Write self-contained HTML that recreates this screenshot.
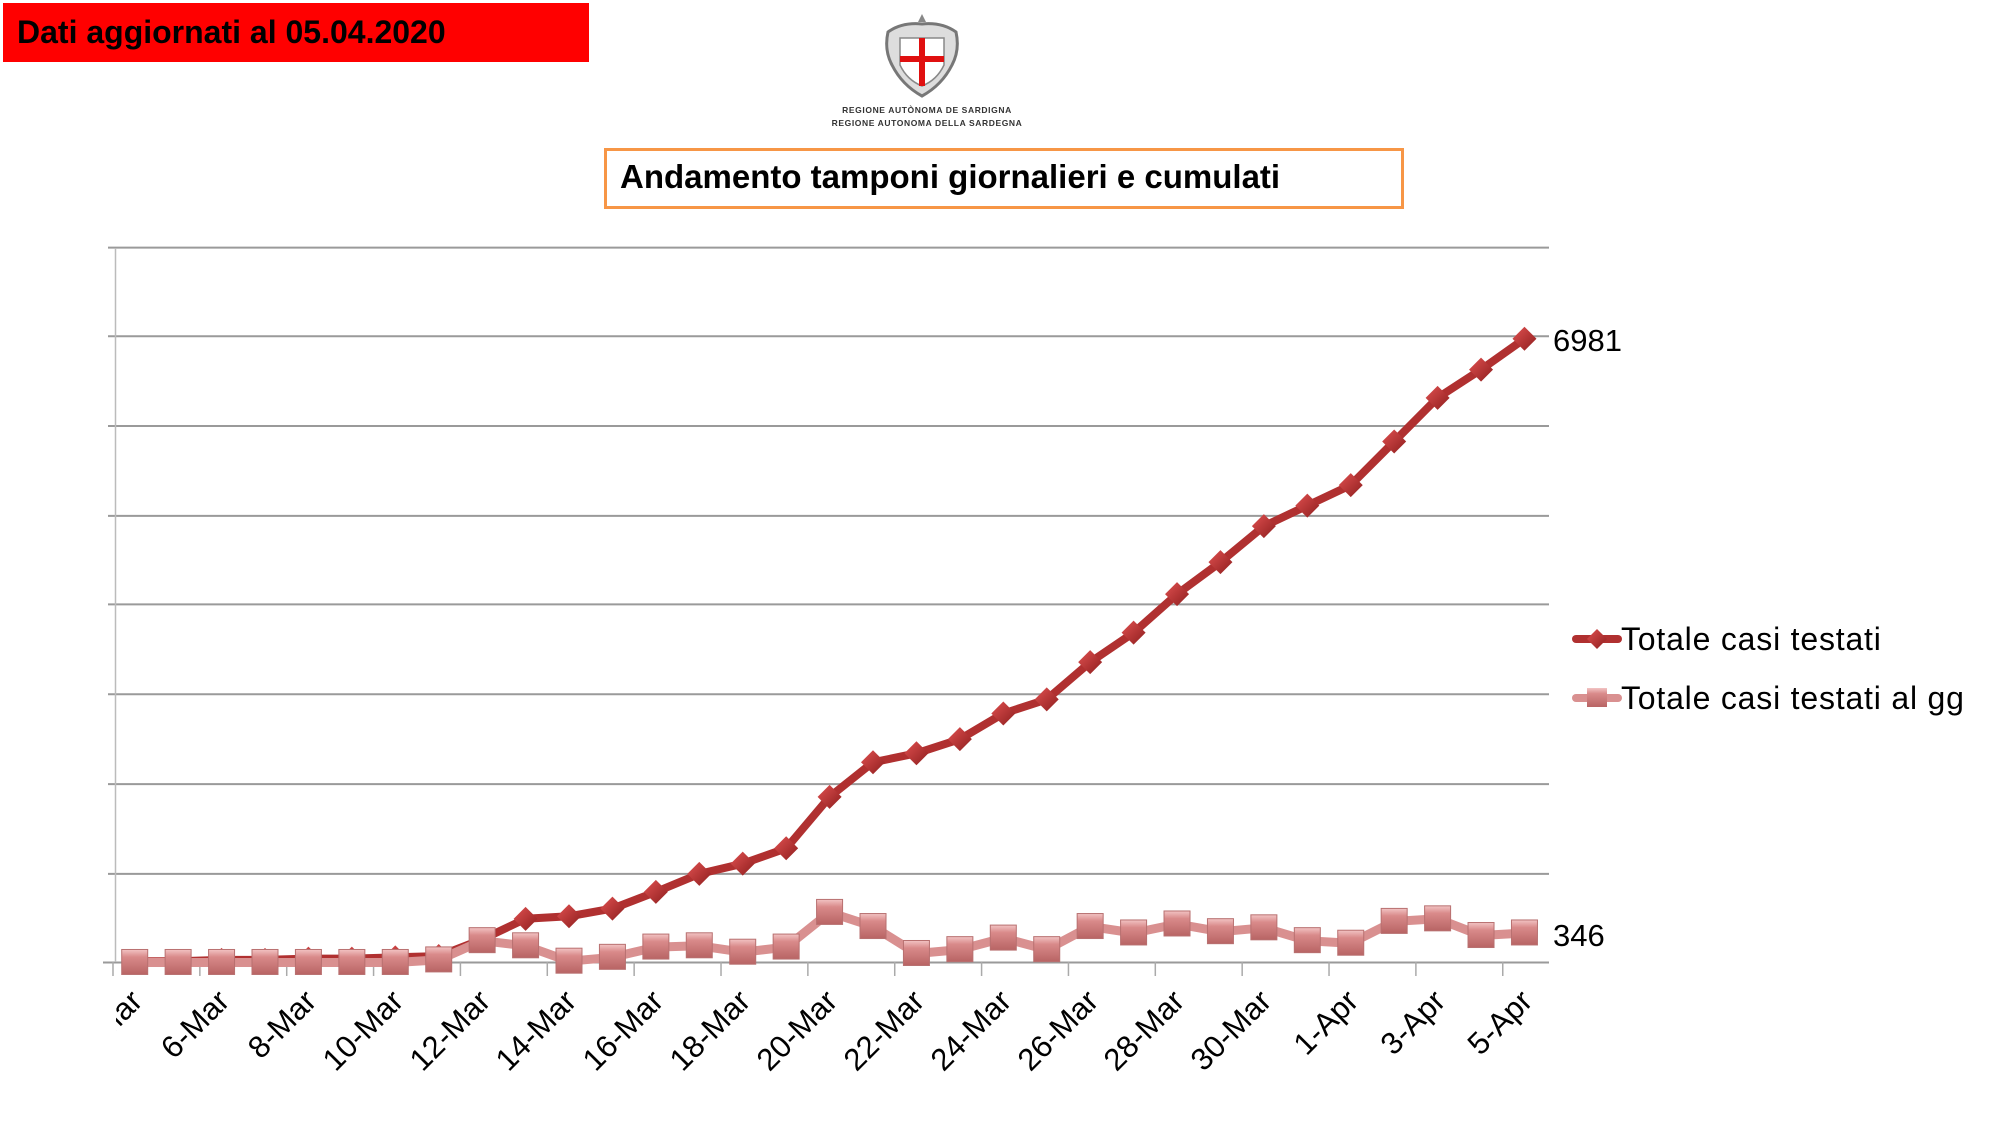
<!DOCTYPE html>
<html><head><meta charset="utf-8"><style>
html,body{margin:0;padding:0;background:#fff;width:2002px;height:1127px;overflow:hidden}
svg{display:block}
</style></head><body>
<svg id="s" width="2002" height="1127" viewBox="0 0 2002 1127" xmlns="http://www.w3.org/2000/svg" font-family="'Liberation Sans', sans-serif">
<defs>
<linearGradient id="sq" x1="0" y1="0" x2="0" y2="1"><stop offset="0" stop-color="#f2c4c4"/><stop offset="0.3" stop-color="#d98a8a"/><stop offset="1" stop-color="#b86464"/></linearGradient>
<linearGradient id="dm" x1="0" y1="0" x2="1" y2="1"><stop offset="0" stop-color="#e05050"/><stop offset="1" stop-color="#8e1e1e"/></linearGradient>
<clipPath id="lc"><rect x="116" y="960" width="1900" height="167"/></clipPath>
</defs>
<rect x="3" y="3" width="586" height="59" fill="#ff0000"/>
<text x="17" y="43" font-size="32" font-weight="bold">Dati aggiornati al 05.04.2020</text>
<g transform="translate(922,60)">
<path d="M-34,-28 Q-38,-10 -30,5 Q-20,25 0,36 Q20,25 30,5 Q38,-10 34,-28 Q20,-38 0,-36 Q-20,-38 -34,-28Z" fill="#ddd" stroke="#777" stroke-width="3"/>
<path d="M-22,-22 L22,-22 L22,5 Q15,20 0,26 Q-15,20 -22,5Z" fill="#fff" stroke="#888" stroke-width="1.5"/>
<rect x="-22" y="-4" width="44" height="6" fill="#e01010"/><rect x="-3" y="-22" width="6" height="48" fill="#e01010"/>
<path d="M0,-46 l4,8 -8,0z" fill="#888"/>
</g>
<text x="927" y="113" font-size="8.5" font-weight="bold" text-anchor="middle" fill="#333" letter-spacing="0.6">REGIONE AUTÒNOMA DE SARDIGNA</text>
<text x="927" y="126" font-size="8.5" font-weight="bold" text-anchor="middle" fill="#333" letter-spacing="0.6">REGIONE AUTONOMA DELLA SARDEGNA</text>
<rect x="605.5" y="149.5" width="797" height="58" fill="#fff" stroke="#f79646" stroke-width="3"/>
<text x="620" y="188" font-size="33" font-weight="bold">Andamento tamponi giornalieri e cumulati</text>
<g id="grid" stroke="#9a9a9a" stroke-width="2"></g>
<line x1="115.5" y1="248" x2="115.5" y2="962" stroke="#bbb" stroke-width="1.5"/>
<g id="ticks" stroke="#aaa" stroke-width="1.5"></g>
<g id="series"></g>
<g font-size="31" clip-path="url(#lc)" id="labels">
<text transform="translate(144,1003) rotate(-45)" text-anchor="end">4-Mar</text>
<text transform="translate(231,1003) rotate(-45)" text-anchor="end">6-Mar</text>
<text transform="translate(318,1003) rotate(-45)" text-anchor="end">8-Mar</text>
<text transform="translate(405,1003) rotate(-45)" text-anchor="end">10-Mar</text>
<text transform="translate(492,1003) rotate(-45)" text-anchor="end">12-Mar</text>
<text transform="translate(578,1003) rotate(-45)" text-anchor="end">14-Mar</text>
<text transform="translate(665,1003) rotate(-45)" text-anchor="end">16-Mar</text>
<text transform="translate(752,1003) rotate(-45)" text-anchor="end">18-Mar</text>
<text transform="translate(839,1003) rotate(-45)" text-anchor="end">20-Mar</text>
<text transform="translate(926,1003) rotate(-45)" text-anchor="end">22-Mar</text>
<text transform="translate(1013,1003) rotate(-45)" text-anchor="end">24-Mar</text>
<text transform="translate(1100,1003) rotate(-45)" text-anchor="end">26-Mar</text>
<text transform="translate(1186,1003) rotate(-45)" text-anchor="end">28-Mar</text>
<text transform="translate(1273,1003) rotate(-45)" text-anchor="end">30-Mar</text>
<text transform="translate(1360,1003) rotate(-45)" text-anchor="end">1-Apr</text>
<text transform="translate(1447,1003) rotate(-45)" text-anchor="end">3-Apr</text>
<text transform="translate(1534,1003) rotate(-45)" text-anchor="end">5-Apr</text>
</g>
<text x="1553" y="351" font-size="31">6981</text>
<text x="1553" y="946" font-size="31">346</text>
<line x1="1576" y1="639" x2="1618" y2="639" stroke="#b03030" stroke-width="8" stroke-linecap="round"/>
<path d="M1597,629 l10,10 -10,10 -10,-10z" fill="url(#dm)"/>
<text x="1621" y="650" font-size="32" letter-spacing="0.8">Totale casi testati</text>
<line x1="1576" y1="698" x2="1618" y2="698" stroke="#d99090" stroke-width="8" stroke-linecap="round"/>
<rect x="1587" y="688" width="20" height="19" fill="url(#sq)"/>
<text x="1621" y="709" font-size="32" letter-spacing="0.8">Totale casi testati al gg</text>
</svg>
<script>
var ns="http://www.w3.org/2000/svg",k=1.2833;
function el(t,a,p){var e=document.createElementNS(ns,t);for(var n in a)e.setAttribute(n,a[n]);p.appendChild(e);return e;}
var g=document.getElementById('grid');
[193,262,332,402,471,541,611,681,750].forEach(function(y,i){var yy=y*k;el('line',{x1:i==8?103:108,y1:yy,x2:1549,y2:yy},g);});
var tk=document.getElementById('ticks');
for(var i=-0.5;i<=33;i+=2){var x=134.7+43.43*i;el('line',{x1:x,y1:962,x2:x,y2:976},tk);}
var red=[749,749,748,748,747,747,746,745,732,716,714,708,695,681,673,661,621,594,587,576,556,545,516,493,463,438,410,394,378,344,310,288,264];
var pink=[750,750,750,750,750,750,750,748,733,737,749,746,738,737,742,738,711,722,743,740,731,740,722,727,720,726,723,733,735,718,716,729,727];
var s=document.getElementById('series');
function pts(a){return a.map(function(y,i){return (134.7+43.43*i).toFixed(1)+','+(y*k).toFixed(1);}).join(' ');}
el('polyline',{points:pts(red),fill:'none',stroke:'#b03030','stroke-width':8,'stroke-linejoin':'round'},s);
el('polyline',{points:pts(pink),fill:'none',stroke:'#d99090','stroke-width':9,'stroke-linejoin':'round'},s);
red.forEach(function(y,i){var x=134.7+43.43*i,yy=y*k;el('path',{d:'M'+x+','+(yy-12)+' l12,12 -12,12 -12,-12z',fill:'url(#dm)'},s);});
pink.forEach(function(y,i){var x=134.7+43.43*i,yy=y*k;el('rect',{x:x-13,y:yy-13,width:26,height:25,fill:'url(#sq)',stroke:'#b87070','stroke-width':1},s);});
</script>
</body></html>
